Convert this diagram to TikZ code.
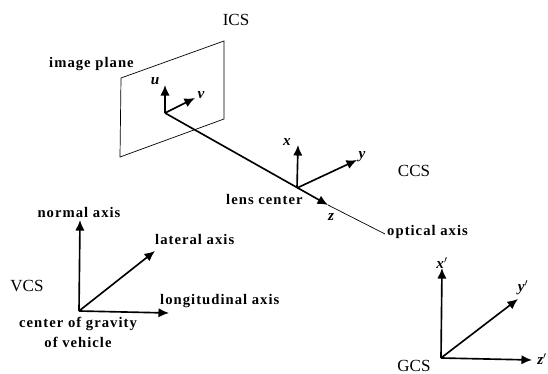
\documentclass[tikz,border=0pt]{standalone}
\usepackage{fontspec}
\setmainfont{Liberation Serif}
\usetikzlibrary{arrows.meta}
\tikzset{
  axisline/.style={line width=1.4pt, -{Latex[length=9pt, width=8pt]}},
  thinline/.style={line width=0.6pt},
  lbl/.style={font=\fontsize{12.5}{14}\selectfont\bfseries\addfontfeature{LetterSpace=7}, inner sep=0pt},
  sys/.style={font=\fontsize{14.5}{16}\selectfont, inner sep=0pt},
  var/.style={font=\fontsize{13}{15}\selectfont\bfseries\itshape, inner sep=0pt}
}
\begin{document}
\begin{tikzpicture}[x=0.03cm, y=-0.03cm]
  \useasboundingbox (0, 0) rectangle (548, 374);

  % Image plane with u, v
  \coordinate (planeA) at (121, 78);
  \coordinate (planeB) at (224, 41);
  \coordinate (planeC) at (224, 119);
  \coordinate (planeD) at (120, 157);
  \draw[thinline] (planeA) -- (planeB) -- (planeC) -- (planeD) -- cycle;
  \node[sys] (icsLabel) at (236, 20) {ICS};
  \node[lbl, anchor=west] (planeLabel) at (49, 64) {image plane};

  \coordinate (icsOrigin) at (165, 113);
  \coordinate (uTip) at (165, 85);
  \coordinate (vTip) at (195, 98);
  \draw[axisline] (icsOrigin) -- (uTip);
  \draw[axisline] (icsOrigin) -- (vTip);
  \node[var] (uLabel) at (155, 81) {u};
  \node[var] (vLabel) at (201, 95) {v};

  % Camera axes and optical axis
  \coordinate (lensCenter) at (297, 188);
  \coordinate (xTip) at (298, 145);
  \coordinate (yTip) at (357, 160);
  \coordinate (zTip) at (328, 205);
  \coordinate (opticalEnd) at (385, 234);
  \draw[axisline] (icsOrigin) -- (zTip);
  \draw[thinline] (zTip) -- (opticalEnd);
  \draw[axisline] (lensCenter) -- (xTip);
  \draw[axisline] (lensCenter) -- (yTip);
  \node[var] (xLabel) at (287, 142) {x};
  \node[var] (yLabel) at (362, 157) {y};
  \node[var] (zLabel) at (331, 217) {z};
  \node[sys] (ccsLabel) at (414, 171) {CCS};
  \node[lbl, anchor=west] (lensLabel) at (226, 199) {lens center};
  \node[lbl, anchor=west] (opticalLabel) at (387, 232) {optical axis};

  % Vehicle axes
  \coordinate (vcsOrigin) at (79, 311);
  \coordinate (normalTip) at (80, 220);
  \coordinate (lateralTip) at (155, 251);
  \coordinate (longTip) at (169, 313);
  \draw[axisline] (vcsOrigin) -- (normalTip);
  \draw[axisline] (vcsOrigin) -- (lateralTip);
  \draw[axisline] (vcsOrigin) -- (longTip);
  \node[lbl] (normalLabel) at (79, 212) {normal axis};
  \node[lbl, anchor=west] (lateralLabel) at (155, 239) {lateral axis};
  \node[lbl, anchor=west] (longLabel) at (160, 301) {longitudinal axis};
  \node[sys] (vcsLabel) at (27, 286) {VCS};
  \node[lbl] (gravityLabel) at (78, 324) {center of gravity};
  \node[lbl] (vehicleLabel) at (78, 342) {of vehicle};

  % Ground axes
  \coordinate (gcsOrigin) at (441, 358);
  \coordinate (xpTip) at (442, 268);
  \coordinate (ypTip) at (518, 299);
  \coordinate (zpTip) at (532, 360);
  \draw[axisline] (gcsOrigin) -- (xpTip);
  \draw[axisline] (gcsOrigin) -- (ypTip);
  \draw[axisline] (gcsOrigin) -- (zpTip);
  \node[var] (xpLabel) at (442, 263) {x$'$};
  \node[var] (ypLabel) at (523, 288) {y$'$};
  \node[var] (zpLabel) at (542, 359) {z$'$};
  \node[sys] (gcsLabel) at (414, 366) {GCS};
\end{tikzpicture}
\end{document}
